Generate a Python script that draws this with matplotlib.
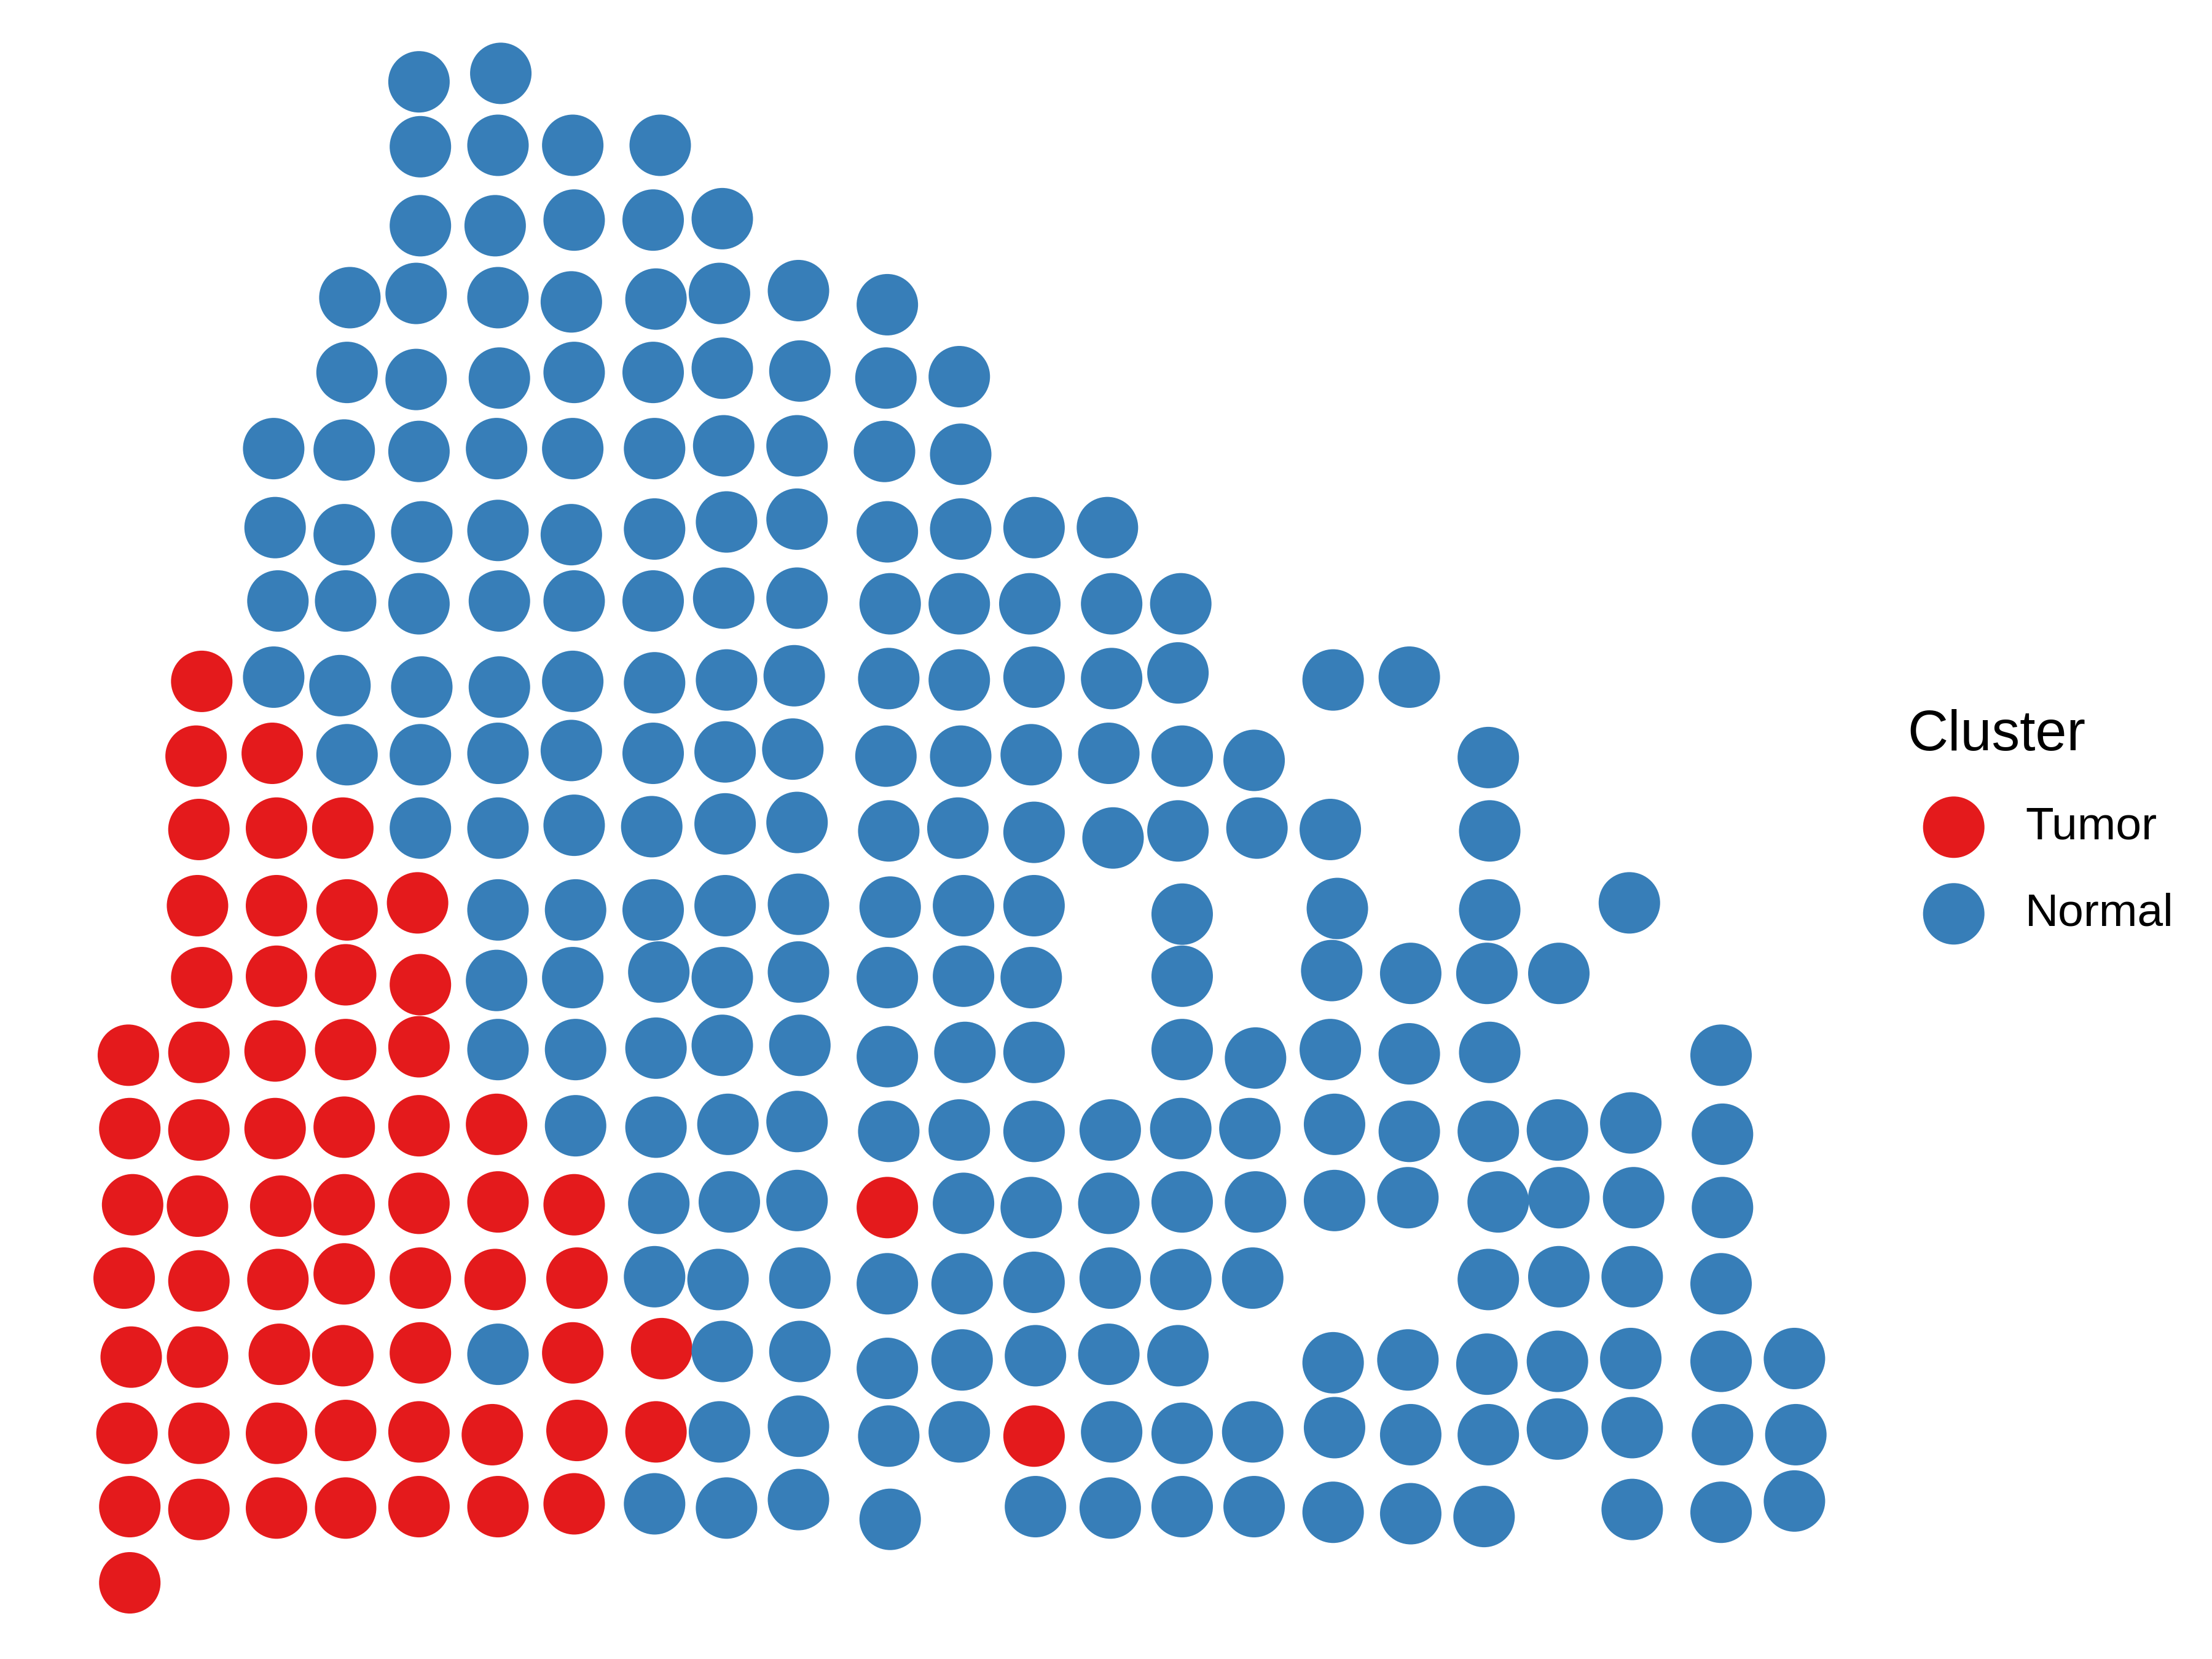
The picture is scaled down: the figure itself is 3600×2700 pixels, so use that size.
import matplotlib
matplotlib.use("Agg")
import matplotlib.pyplot as plt
import numpy as np

plt.rcParams['font.family'] = ['Liberation Sans', 'DejaVu Sans']

# spot positions (image coordinates, y grows downward) and cluster per spot, row by row
spot_x = [
    297, 355,
    298, 353, 406, 468,
    298, 351, 407, 463, 512,
    248, 295, 353, 405, 465, 510, 566, 629,
    246, 295, 354, 407, 463, 512, 567, 628, 680,
    194, 244, 297, 352, 406, 464, 513, 565, 627, 681,
    195, 244, 299, 353, 405, 464, 515, 565, 629, 681, 733, 785,
    197, 245, 297, 354, 407, 463, 513, 565, 631, 680, 730, 788, 837,
    143, 194, 241, 299, 354, 406, 464, 515, 563, 630, 680, 733, 788, 835, 945, 999,
    139, 193, 246, 298, 353, 405, 463, 514, 562, 628, 681, 731, 786, 838, 889, 1055,
    141, 196, 243, 298, 353, 407, 462, 514, 565, 630, 679, 733, 789, 835, 891, 943, 1056,
    140, 196, 246, 296, 353, 408, 463, 514, 566, 631, 683, 733, 838, 948, 1056, 1155,
    143, 196, 245, 298, 352, 406, 467, 512, 566, 629, 683, 731, 838, 944, 1000, 1054, 1105,
    91, 141, 195, 245, 297, 353, 408, 465, 512, 567, 629, 684, 733, 838, 890, 943, 999, 1056, 1220,
    92, 141, 195, 244, 297, 352, 408, 465, 516, 565, 630, 680, 733, 787, 837, 886, 946, 999, 1055, 1104, 1156, 1221,
    94, 140, 199, 244, 297, 353, 407, 467, 517, 565, 629, 683, 731, 786, 838, 890, 946, 998, 1062, 1105, 1158, 1221,
    88, 141, 197, 244, 298, 351, 409, 464, 509, 567, 629, 682, 733, 787, 837, 888, 1055, 1105, 1157, 1220,
    93, 140, 198, 243, 298, 353, 406, 469, 512, 567, 629, 682, 734, 786, 835, 945, 998, 1054, 1104, 1156, 1220, 1272,
    90, 141, 196, 245, 297, 349, 409, 465, 510, 566, 630, 680, 733, 788, 838, 888, 946, 1000, 1055, 1104, 1157, 1221, 1273,
    92, 141, 196, 245, 297, 353, 407, 464, 515, 566, 631, 734, 787, 838, 889, 945, 1000, 1052, 1157, 1220, 1272,
    92,
]
spot_y = [
    58, 52,
    104, 103, 103, 103,
    160, 160, 156, 156, 155,
    211, 208, 211, 214, 212, 208, 206, 216,
    264, 269, 268, 264, 264, 261, 263, 268, 267,
    318, 319, 320, 318, 318, 318, 316, 316, 320, 322,
    374, 379, 377, 376, 379, 375, 370, 368, 377, 375, 374, 374,
    426, 426, 428, 426, 426, 426, 424, 424, 428, 428, 428, 428, 428,
    483, 480, 486, 487, 487, 483, 484, 482, 479, 481, 482, 480, 481, 477, 482, 480,
    536, 534, 535, 535, 534, 532, 534, 533, 531, 536, 536, 535, 534, 536, 539, 537,
    588, 587, 587, 587, 587, 585, 586, 584, 583, 589, 587, 590, 594, 589, 587, 588, 589,
    642, 642, 645, 640, 645, 645, 645, 642, 641, 643, 642, 642, 648, 644, 645, 640,
    693, 692, 691, 698, 695, 693, 689, 693, 689, 693, 692, 693, 692, 688, 690, 690, 690,
    748, 746, 745, 744, 742, 744, 744, 743, 741, 741, 749, 746, 746, 744, 750, 744, 747, 746, 748,
    800, 801, 800, 799, 798, 797, 798, 799, 797, 795, 802, 801, 802, 801, 800, 800, 797, 802, 802, 801, 796, 804,
    854, 855, 855, 854, 853, 852, 854, 853, 852, 851, 856, 853, 856, 853, 852, 852, 851, 849, 852, 849, 849, 856,
    906, 908, 907, 903, 906, 907, 906, 905, 907, 906, 910, 910, 909, 906, 907, 906, 907, 905, 905, 910,
    962, 962, 960, 961, 959, 960, 959, 956, 958, 958, 970, 964, 961, 960, 961, 966, 964, 967, 965, 963, 965, 963,
    1016, 1016, 1016, 1014, 1015, 1017, 1014, 1015, 1015, 1011, 1018, 1015, 1018, 1015, 1016, 1015, 1012, 1017, 1017, 1013, 1012, 1017, 1017,
    1068, 1070, 1069, 1069, 1068, 1068, 1066, 1066, 1069, 1063, 1077, 1068, 1069, 1068, 1068, 1072, 1073, 1075, 1070, 1072, 1064,
    1122,
]
# T = Tumor, N = Normal, same row order as above
spot_cluster = (
    "N" * 2
    + "N" * 4
    + "N" * 5
    + "N" * 8
    + "N" * 9
    + "N" * 10
    + "N" * 12
    + "N" * 13
    + "T" + "N" * 15
    + "T" * 2 + "N" * 14
    + "T" * 3 + "N" * 14
    + "T" * 4 + "N" * 12
    + "T" * 4 + "N" * 13
    + "T" * 5 + "N" * 14
    + "T" * 6 + "N" * 16
    + "T" * 7 + "N" * 3 + "T" + "N" * 11
    + "T" * 7 + "N" * 13
    + "T" * 5 + "N" + "T" * 2 + "N" * 14
    + "T" * 8 + "N" * 4 + "T" + "N" * 10
    + "T" * 7 + "N" * 14
    + "T"
)

clusters = ["Tumor", "Normal"]
cluster_codes = ["T", "N"]
cluster_colors = ["#E41A1C", "#377EB8"]

x = np.array(spot_x)
y = np.array(spot_y)
c = np.array(list(spot_cluster))

fig = plt.figure(figsize=(12, 9), dpi=300)
ax = fig.add_axes([0, 0, 1, 1])

for name, code, color in zip(clusters, cluster_codes, cluster_colors):
    sel = c == code
    ax.scatter(x[sel], y[sel], s=576, color=color, edgecolors='none', label=name)

ax.set_xlim(0, 1568)
ax.set_ylim(1176, 0)
ax.axis('off')

leg = ax.legend(title="Cluster", loc='upper left', bbox_to_anchor=(0.852, 0.5865),
                frameon=False, fontsize=18, title_fontsize=22, borderpad=0,
                handlelength=2.0, handletextpad=0.55, labelspacing=0.96,
                alignment='left')

fig.savefig("out.png", dpi=300)
